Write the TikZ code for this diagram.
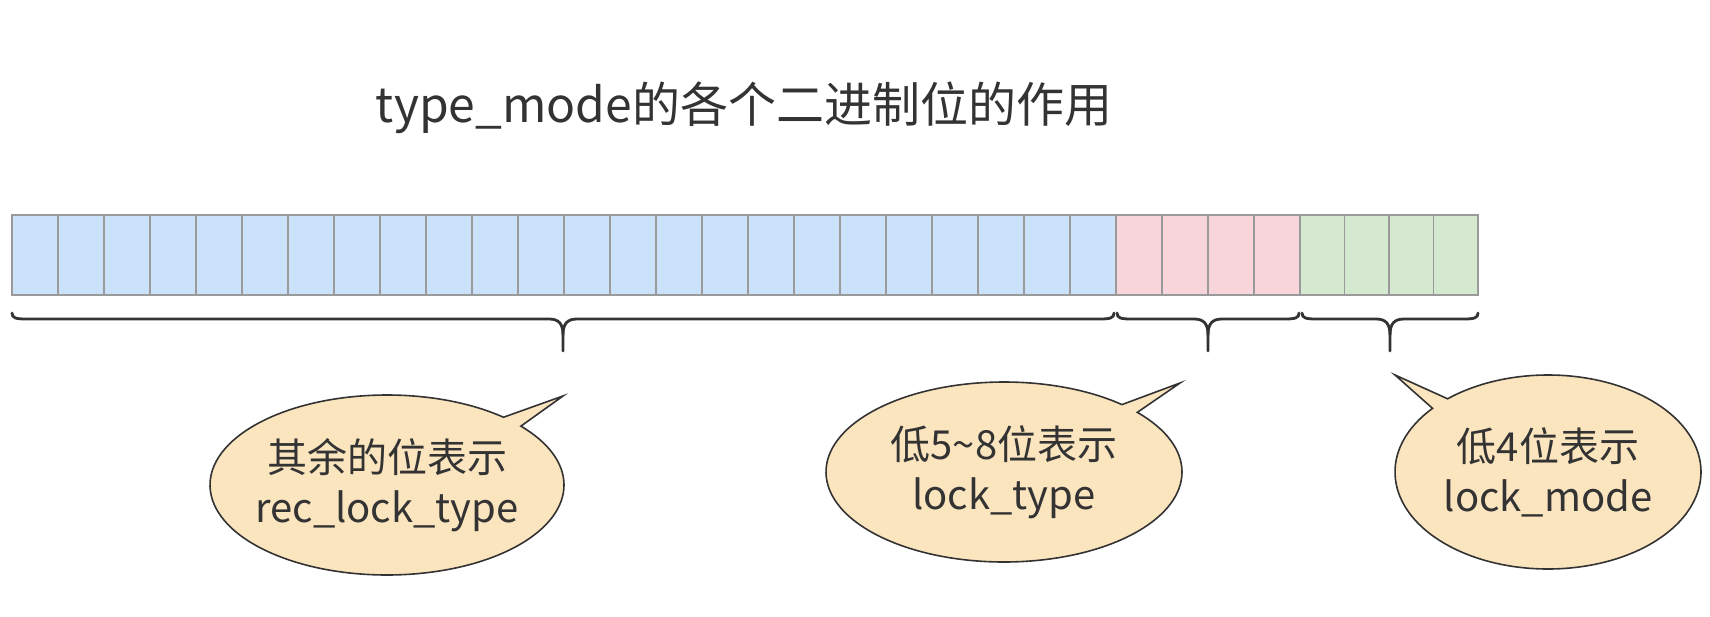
\documentclass[tikz,border=0pt]{standalone}
\usepackage{fontspec}
\newfontfamily\cjk{Noto Sans CJK SC}
\usetikzlibrary{shapes.callouts}

\definecolor{bitblue}{HTML}{CCE1FA}
\definecolor{bitpink}{HTML}{F8D5DA}
\definecolor{bitgreen}{HTML}{D5E8D0}
\definecolor{notefill}{HTML}{FBE5BF}
\definecolor{inkgray}{HTML}{333333}
\definecolor{gridgray}{HTML}{9A9A9A}

\tikzset{
  bitcell/.style={rectangle,draw=gridgray,line width=1.5pt,minimum height=80pt,inner sep=0pt,outer sep=0pt},
  bracestyle/.style={line width=2.8pt,color=inkgray,line cap=round},
  note/.style={ellipse callout,draw=inkgray,line width=1.6pt,fill=notefill,text=inkgray,align=center,
    font=\cjk\fontsize{40}{50}\selectfont,inner xsep=-12pt,inner ysep=0pt},
}

% curly brace under the bits: x of left end, x of right end
\newcommand{\bitbrace}[2]{%
  \pgfmathsetmacro{\xm}{(#1+#2)/2}
  \draw[bracestyle] (#1,313) .. controls (#1,318) and (#1+4,319) .. (#1+14,319) -- (\xm-14,319)
     .. controls (\xm-4,319) and (\xm,324) .. (\xm,335) -- (\xm,351);
  \draw[bracestyle] (\xm,335) .. controls (\xm,324) and (\xm+4,319) .. (\xm+14,319) -- (#2-14,319)
     .. controls (#2-4,319) and (#2,318) .. (#2,313);
}

\begin{document}
\begin{tikzpicture}[x=1pt,y=-1pt]
\useasboundingbox (0,0) rectangle (1710,616);

\node (title) [font=\cjk\fontsize{48}{58}\selectfont,text=inkgray] at (744,108) {type\_mode的各个二进制位的作用};

% the 32 bits
\foreach \i in {1,...,24}
  \node (c\i) [bitcell,minimum width=46pt,fill=bitblue] at ({12+(\i-0.5)*46},255) {};
\foreach \i in {25,...,28}
  \node (c\i) [bitcell,minimum width=46pt,fill=bitpink] at ({1116+(\i-24.5)*46},255) {};
\foreach \i in {29,...,32}
  \node (c\i) [bitcell,minimum width=44.5pt,fill=bitgreen] at ({1300+(\i-28.5)*44.5},255) {};

\bitbrace{12}{1114}
\bitbrace{1117}{1299}
\bitbrace{1302}{1478}

% notes
\coordinate (tip1) at (563,396);
\coordinate (tip2) at (1180,383);
\coordinate (tip3) at (1395,375);
\node (resttype) [note,minimum width=354pt,minimum height=180pt,callout absolute pointer={(tip1)},callout pointer arc=8] at (387,485) {其余的位表示\\rec\_lock\_type};
\node (locktype) [note,minimum width=356pt,minimum height=180pt,callout absolute pointer={(tip2)},callout pointer arc=7] at (1004,472) {低5\textasciitilde8位表示\\lock\_type};
\node (lockmode) [note,minimum width=306pt,minimum height=194pt,callout absolute pointer={(tip3)},callout pointer arc=8] at (1548,472) {低4位表示\\lock\_mode};
\end{tikzpicture}
\end{document}
